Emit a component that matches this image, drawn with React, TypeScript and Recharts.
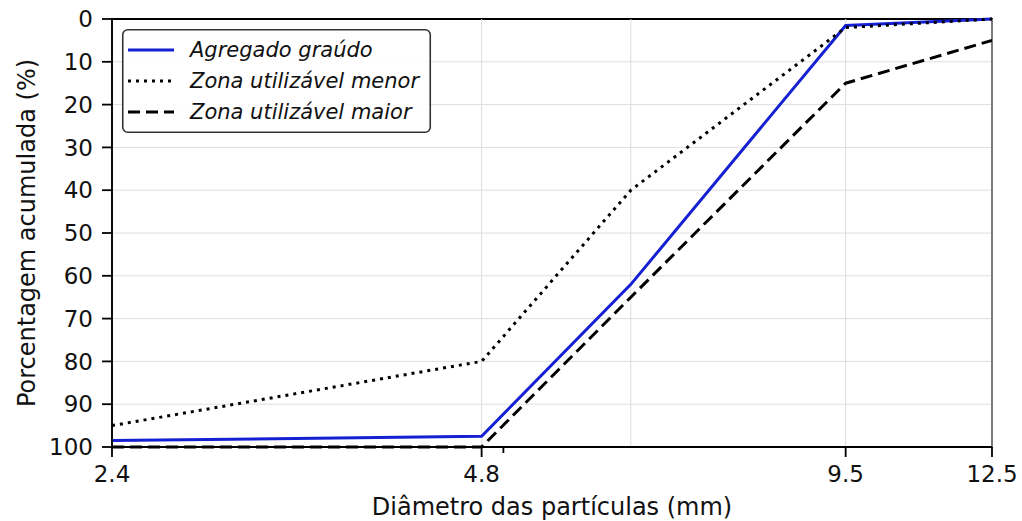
import React from "react";
import {
  LineChart,
  Line,
  XAxis,
  YAxis,
  CartesianGrid,
  ReferenceLine,
  ReferenceArea,
} from "recharts";

// Sieve openings (mm) and cumulative retained percentages
const sieveSizes = [2.4, 4.8, 6.35, 9.5, 12.5];
const agregadoGraudo = [98.5, 97.5, 62, 1.5, 0];
const zonaMenor = [95, 80, 40, 2, 0];
const zonaMaior = [100, 100, 65, 15, 5];

// Axis ticks
const xMajorTicks = [2.4, 4.8, 9.5, 12.5];
const xMinorTicks = [5];
const xGridValues = [2.4, 4.8, 6.35, 9.5, 12.5];
const yTicks = [0, 10, 20, 30, 40, 50, 60, 70, 80, 90, 100];

const seriesNames = ["Agregado graúdo", "Zona utilizável menor", "Zona utilizável maior"];

const FONT = "'DejaVu Sans', sans-serif";
const TICK_FONT_SIZE = 23;
const LABEL_FONT_SIZE = 24;
const TEXT_COLOR = "#111";
const BLUE = "#1520d2";
const TICK_SIZE = 10;
const MINOR_TICK_SIZE = 6;
const TICK_MARGIN = 9;

const W = 1022;
const H = 521;

const data = sieveSizes.map((d, i) => ({
  d,
  graudo: agregadoGraudo[i],
  menor: zonaMenor[i],
  maior: zonaMaior[i],
}));

const seriesStyles = [
  { key: "graudo", color: BLUE, dash: undefined as string | undefined },
  { key: "menor", color: "#000", dash: "3 5" },
  { key: "maior", color: "#000", dash: "12 6" },
];

const XTick = (props: any) => {
  const { x, y, payload } = props;
  const axisY = y - TICK_SIZE - TICK_MARGIN;
  const major = xMajorTicks.includes(payload.value);
  return (
    <g>
      <line
        x1={x}
        x2={x}
        y1={axisY}
        y2={axisY + (major ? TICK_SIZE : MINOR_TICK_SIZE)}
        stroke="#000"
        strokeWidth={1.8}
      />
      {major && (
        <text
          x={x}
          y={y}
          dy="0.71em"
          textAnchor="middle"
          fontFamily={FONT}
          fontSize={TICK_FONT_SIZE}
          fill={TEXT_COLOR}
        >
          {String(payload.value)}
        </text>
      )}
    </g>
  );
};

const LegendBox = () => {
  const w = 309;
  const h = 104;
  return (
    <svg
      width={w}
      height={h}
      style={{ position: "absolute", left: 122, top: 29, overflow: "visible" }}
    >
      <rect
        x={0.75}
        y={0.75}
        width={w - 1.5}
        height={h - 1.5}
        rx={5}
        ry={5}
        fill="rgba(255,255,255,0.9)"
        stroke="#333"
        strokeWidth={1.6}
      />
      {seriesNames.map((name, i) => {
        const cy = 21 + i * 31;
        const s = seriesStyles[i];
        return (
          <g key={name}>
            <line
              x1={6}
              x2={52}
              y1={cy}
              y2={cy}
              stroke={s.color}
              strokeWidth={3}
              strokeDasharray={s.dash}
            />
            <text
              x={68}
              y={cy}
              dominantBaseline="central"
              fontFamily={FONT}
              fontStyle="italic"
              fontSize={21}
              fill={TEXT_COLOR}
            >
              {name}
            </text>
          </g>
        );
      })}
    </svg>
  );
};

export default function App() {
  return (
    <div style={{ position: "relative", width: W, height: H, background: "#fff" }}>
      <style>{`body{margin:0;}`}</style>
      <LineChart
        width={W}
        height={H}
        data={data}
        margin={{ top: 19, right: 30, bottom: 0, left: 0 }}
      >
        <CartesianGrid vertical={false} stroke="#dedede" strokeWidth={1} />
        {xGridValues.map((v) => (
          <ReferenceLine key={v} x={v} stroke="#dedede" strokeWidth={1} />
        ))}
        <XAxis
          dataKey="d"
          type="number"
          scale="log"
          domain={[2.4, 12.5]}
          allowDataOverflow
          ticks={[...xMajorTicks, ...xMinorTicks]}
          interval={0}
          height={74}
          tickSize={TICK_SIZE}
          tickMargin={TICK_MARGIN}
          tickLine={false}
          axisLine={{ stroke: "#000", strokeWidth: 1.8 }}
          tick={<XTick />}
          label={{
            content: (p: any) => {
              const vb = p.viewBox;
              return (
                <text
                  x={vb.x + vb.width / 2}
                  y={515}
                  textAnchor="middle"
                  fontFamily={FONT}
                  fontSize={LABEL_FONT_SIZE}
                  fill={TEXT_COLOR}
                >
                  Diâmetro das partículas (mm)
                </text>
              );
            },
          }}
        />
        <YAxis
          type="number"
          reversed
          domain={[0, 100]}
          ticks={yTicks}
          interval={0}
          width={112}
          tickSize={TICK_SIZE}
          tickMargin={TICK_MARGIN}
          tickLine={{ stroke: "#000", strokeWidth: 1.8 }}
          axisLine={{ stroke: "#000", strokeWidth: 1.8 }}
          tick={{ fontFamily: FONT, fontSize: TICK_FONT_SIZE, fill: TEXT_COLOR }}
          label={{
            content: (p: any) => {
              const vb = p.viewBox;
              const cy = vb.y + vb.height / 2;
              return (
                <text
                  x={27}
                  y={cy}
                  transform={`rotate(-90, 27, ${cy})`}
                  textAnchor="middle"
                  dominantBaseline="central"
                  fontFamily={FONT}
                  fontSize={LABEL_FONT_SIZE}
                  fill={TEXT_COLOR}
                >
                  Porcentagem acumulada (%)
                </text>
              );
            },
          }}
        />
        {seriesStyles.map((s, i) => (
          <Line
            key={s.key}
            dataKey={s.key}
            name={seriesNames[i]}
            type="linear"
            stroke={s.color}
            strokeWidth={3}
            strokeDasharray={s.dash}
            dot={false}
            activeDot={false}
            isAnimationActive={false}
          />
        ))}
        <ReferenceArea
          x1={2.4}
          x2={12.5}
          y1={0}
          y2={100}
          fill="none"
          fillOpacity={0}
          stroke="#000"
          strokeWidth={1.8}
          ifOverflow="visible"
        />
      </LineChart>
      <LegendBox />
    </div>
  );
}
